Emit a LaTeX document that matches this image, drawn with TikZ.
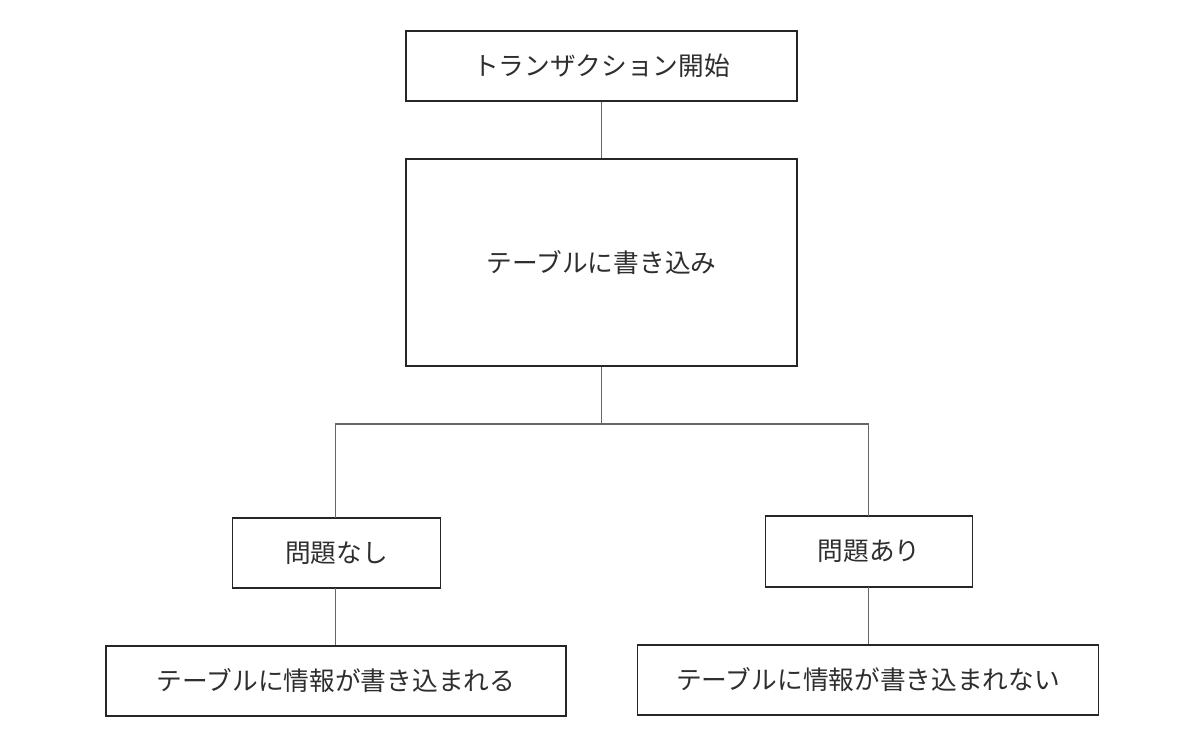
\documentclass[tikz,border=0pt]{standalone}
\usepackage{fontspec}
\newfontfamily\cjk{Noto Sans CJK JP}
\begin{document}
\begin{tikzpicture}[x=1pt,y=-1pt,
  box/.style={draw=black!85, line width=1.2pt, fill=white, inner sep=0pt, font=\cjk\fontsize{25.7}{30}\selectfont, text=black!82},
  conn/.style={draw=black!60, line width=1.5pt}]
\useasboundingbox (0,0) rectangle (1187,745);
\node[box, minimum width=391pt, minimum height=70pt] (start) at (601.5,66) {トランザクション開始\hspace{12pt}};
\node[box, minimum width=391pt, minimum height=207pt] (write) at (601.5,262.5) {テーブルに書き込み};
\node[box, minimum width=208pt, minimum height=70pt] (ok) at (336.5,553) {問題なし\hspace{3pt}};
\node[box, minimum width=207pt, minimum height=71pt] (ng) at (869,551.5) {問題あり\hspace{6pt}};
\node[box, minimum width=460pt, minimum height=70pt] (okres) at (336,681) {テーブルに情報が書き込まれる};
\node[box, minimum width=461pt, minimum height=70pt] (ngres) at (868,680) {テーブルに情報が書き込まれない};
\coordinate (split) at (601.5,424);
\draw[conn] (start.south) -- (write.north);
\draw[conn] (write.south) -- (split);
\draw[conn] (split) -| (335.5,424) -- (335.5,518);
\draw[conn] (split) -| (868.5,424) -- (868.5,516);
\draw[conn] (335.5,588) -- (okres.north -| 335.5,0);
\draw[conn] (868.5,587) -- (ngres.north -| 868.5,0);
\end{tikzpicture}
\end{document}
